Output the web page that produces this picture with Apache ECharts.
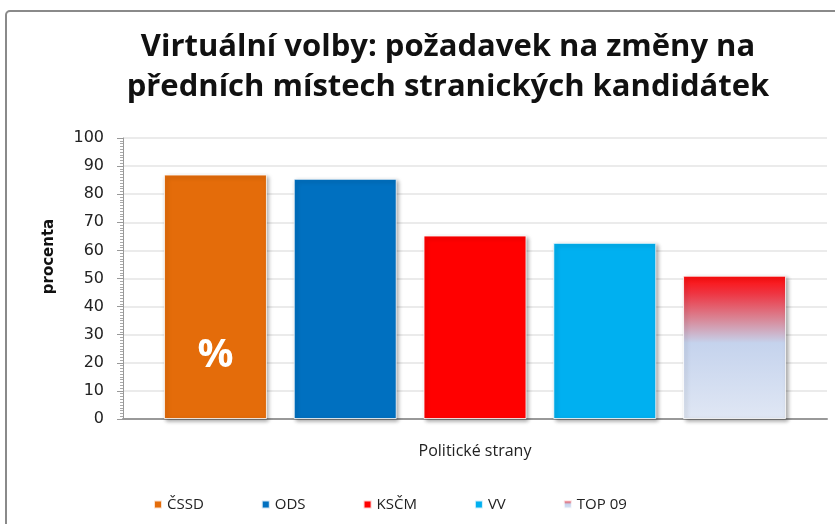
<!DOCTYPE html>
<html>
<head>
<meta charset="utf-8">
<script src="https://cdn.jsdelivr.net/npm/echarts@6/dist/echarts.min.js"></script>
<style>
  html, body { margin: 0; padding: 0; background: #fff; }
  #chart { width: 835px; height: 524px; }
</style>
</head>
<body>
<div id="chart"></div>
<script>
// Virtuální volby: podíl požadavku na změny podle strany
const 标题 = 'Virtuální volby: požadavek na změny na\npředních místech stranických kandidátek'
const 类别 = ['']
const 政党 = ['ČSSD', 'ODS', 'KSČM', 'VV', 'TOP 09']
const 数值 = [87, 85.5, 65.3, 62.7, 51]
const Y刻度 = [0, 100, 10]

const 颜色 = [
  '#e46c0a',
  '#0070c0',
  '#ff0000',
  '#00b0f0',
  {
    type: 'linear', x: 0, y: 0, x2: 0, y2: 1,
    colorStops: [
      { offset: 0, color: '#ff0a0a' },
      { offset: 0.12, color: '#ef3340' },
      { offset: 0.3, color: '#d98595' },
      { offset: 0.47, color: '#c5d3ed' },
      { offset: 1, color: '#e0e7f4' },
    ],
  },
]

const 字体 = "'Open Sans', sans-serif"

const 图表 = echarts.init(document.getElementById('chart'))

const 系列 = 政党.map((名, i) => ({
  name: 名,
  type: 'bar',
  data: [数值[i]],
  barWidth: 103,
  barGap: '26%',
  itemStyle: {
    color: 颜色[i],
    borderColor: 'rgba(255,255,255,0.8)',
    borderWidth: 1,
    shadowColor: 'rgba(0,0,0,0.35)',
    shadowBlur: 4,
    shadowOffsetX: 2,
    shadowOffsetY: 2,
  },
  label: i === 0 ? {
    show: true,
    formatter: '%',
    position: ['50%', '74%'],
    align: 'center',
    verticalAlign: 'middle',
    color: '#fff',
    fontSize: 40,
    fontWeight: 'bold',
    fontFamily: 字体,
  } : { show: false },
  emphasis: { disabled: true },
}))

图表.setOption({
  animation: false,
  title: {
    text: 标题,
    left: 443,
    textAlign: 'center',
    top: 22,
    textStyle: {
      fontFamily: 字体,
      fontSize: 31,
      fontWeight: 'bold',
      color: '#111',
      lineHeight: 40,
    },
  },
  graphic: [{
    type: 'rect',
    shape: { x: 6, y: 11, width: 900, height: 600, r: 4 },
    style: { fill: 'none', stroke: '#8a8a8a', lineWidth: 2 },
    silent: true,
  }],
  legend: {
    left: 148,
    top: 492,
    itemWidth: 8,
    itemHeight: 8,
    itemGap: 57,
    icon: 'rect',
    data: 政党,
    selectedMode: false,
    textStyle: { fontFamily: 字体, fontSize: 15, color: '#222' },
  },
  grid: { left: 123, right: 8, top: 138, bottom: 105 },
  xAxis: {
    type: 'category',
    data: 类别,
    name: 'Politické strany',
    nameLocation: 'middle',
    nameGap: 24,
    nameTextStyle: { fontFamily: 字体, fontSize: 16, color: '#222' },
    axisLine: { lineStyle: { color: '#999', width: 2 } },
    axisTick: { show: false },
    axisLabel: { show: false },
  },
  yAxis: {
    type: 'value',
    min: Y刻度[0],
    max: Y刻度[1],
    interval: Y刻度[2],
    name: 'procenta',
    nameLocation: 'middle',
    nameGap: 66,
    nameTextStyle: {
      fontFamily: "'DejaVu Sans', sans-serif",
      fontSize: 15,
      fontWeight: 'bold',
      color: '#111',
      padding: [0, 0, 0, 44],
    },
    axisLine: { show: true, lineStyle: { color: '#999' } },
    axisTick: { show: true, inside: false, length: 6, lineStyle: { color: '#999' } },
    minorTick: { show: true, splitNumber: 10, length: 3, lineStyle: { color: '#aaa' } },
    axisLabel: { fontFamily: "'DejaVu Sans', sans-serif", fontSize: 16, color: '#222', margin: 19 },
    splitLine: { lineStyle: { color: '#e4e4e4', width: 1.5 } },
  },
  series: 系列,
})
</script>
</body>
</html>
